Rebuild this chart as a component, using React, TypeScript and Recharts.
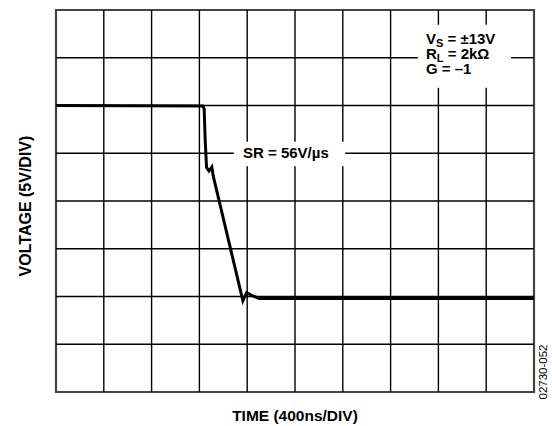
import React from 'react';
import { LineChart, Line, XAxis, YAxis, ReferenceLine, ReferenceArea } from 'recharts';

// scope trace, in divisions (x: 400ns/div, y: 5V/div, 0 at bottom)
const timeDiv = [0, 3.07, 3.1, 3.12, 3.15, 3.2, 3.26, 3.29, 3.91, 3.99, 4.1, 4.25, 10];
const voltDiv = [6.0, 5.99, 5.93, 5.3, 4.7, 4.63, 4.71, 4.52, 1.91, 2.08, 2.02, 1.96, 1.96];

const xTicks = [0, 1, 2, 3, 4, 5, 6, 7, 8, 9, 10];
const yTicks = [0, 1, 2, 3, 4, 5, 6, 7, 8];

const condLines = ['V', 'R', 'G'];
const condSubs = ['S', 'L', ''];
const condRest = [' = ±13V', ' = 2kΩ', ' = –1'];

const slewLabel = 'SR = 56V/µs';
const xLabel = 'TIME (400ns/DIV)';
const yLabel = 'VOLTAGE (5V/DIV)';
const figId = '02730-052';

const data = timeDiv.map((t, i) => ({ t, v: voltDiv[i] }));

const FONT = '"Liberation Sans", Arial, sans-serif';

// gaps in the graticule behind the two notes: [x1, x2, y1, y2] in divisions
const gaps = [
  [7.57, 9.52, 6.37, 7.69],
  [3.72, 6.05, 4.73, 5.24],
];

type Seg = [{ x: number; y: number }, { x: number; y: number }];

function splitRange(fixed: number, lo: number, hi: number, vertical: boolean): Seg[] {
  // cut the [lo, hi] line at every gap it crosses
  let parts: [number, number][] = [[lo, hi]];
  gaps.forEach(([x1, x2, y1, y2]) => {
    const [a, b, c1, c2] = vertical ? [x1, x2, y1, y2] : [y1, y2, x1, x2];
    if (fixed <= a || fixed >= b) return;
    const next: [number, number][] = [];
    parts.forEach(([p, q]) => {
      if (q <= c1 || p >= c2) next.push([p, q]);
      else {
        if (p < c1) next.push([p, c1]);
        if (q > c2) next.push([c2, q]);
      }
    });
    parts = next;
  });
  return parts.map(([p, q]) =>
    vertical ? [{ x: fixed, y: p }, { x: fixed, y: q }] : [{ x: p, y: fixed }, { x: q, y: fixed }]
  ) as Seg[];
}

const gridSegs: Seg[] = [
  ...xTicks.slice(1, -1).flatMap((x) => splitRange(x, 0, 8, true)),
  ...yTicks.slice(1, -1).flatMap((y) => splitRange(y, 0, 10, false)),
];

export default function App() {
  return (
    <div style={{ position: 'absolute', left: 0, top: 0, background: '#fff' }}>
      <LineChart width={552} height={426} data={data} margin={{ top: 10, right: 18, bottom: 34, left: 56 }}>
        <XAxis dataKey="t" type="number" domain={[0, 10]} ticks={xTicks} tick={false} axisLine={false} tickLine={false} height={0} />
        <YAxis type="number" domain={[0, 8]} ticks={yTicks} tick={false} axisLine={false} tickLine={false} width={0} />
        {gridSegs.map((s, i) => (
          <ReferenceLine key={i} segment={s} stroke="#000" strokeWidth={1.4} ifOverflow="visible" />
        ))}
        <ReferenceArea x1={0} x2={10} y1={0} y2={8} fill="none" stroke="#444" strokeWidth={2.2} ifOverflow="visible" />
        <Line dataKey="v" type="linear" stroke="#000" strokeWidth={3} dot={false} isAnimationActive={false} />

        <g fontFamily={FONT} fontWeight="bold" fill="#000">
          {condLines.map((c, i) => (
            <text key={c} x={426} y={44 + i * 15.2} fontSize={15}>
              {c}
              <tspan fontSize={11} dy={3}>{condSubs[i]}</tspan>
              <tspan dy={condSubs[i] ? -3 : 0}>{condRest[i]}</tspan>
            </text>
          ))}
          <text x={243} y={158} fontSize={15}>{slewLabel}</text>
          <text x={295} y={421} fontSize={15.5} textAnchor="middle">{xLabel}</text>
          <text x={31} y={206} fontSize={16} textAnchor="middle" transform="rotate(-90 31 206)">{yLabel}</text>
        </g>
        <text x={547} y={372} fontFamily={FONT} fontSize={11.5} textAnchor="middle" transform="rotate(-90 547 372)" fill="#000">
          {figId}
        </text>
      </LineChart>
    </div>
  );
}
